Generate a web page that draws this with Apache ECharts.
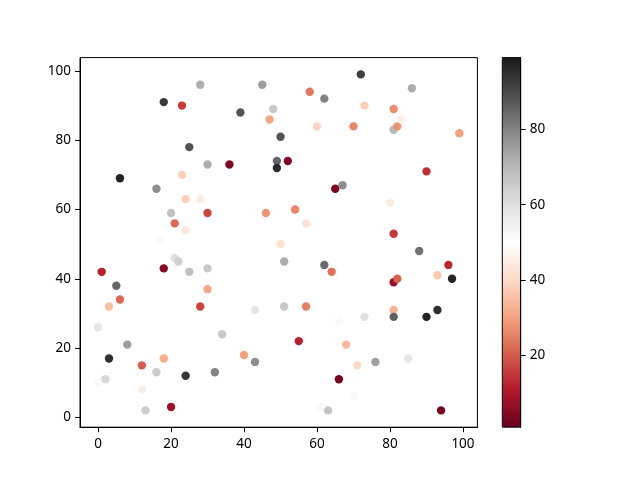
<!DOCTYPE html>
<html>
<head>
<meta charset="utf-8">
<script src="https://cdn.jsdelivr.net/npm/echarts@6/dist/echarts.min.js"></script>
<style>html,body{margin:0;padding:0;background:#fff}#chart{width:640px;height:480px}</style>
</head>
<body>
<div id="chart"></div>
<script>
const xValues = [0,1,0,2,3,3,5,6,6,8,12,12,13,16,16,17,18,18,18,20,20,21,21,22,23,23,24,24,24,25,25,28,28,28,30,30,30,30,32,34,36,39,40,43,43,45,46,47,48,49,49,50,50,51,51,52,54,55,57,57,58,60,62,62,64,63,65,67,66,66,68,70,71,72,70,73,73,76,80,81,81,82,83,81,81,82,81,81,85,86,88,90,90,93,93,94,96,97,99,61];
const yValues = [26,42,10,11,17,32,38,34,69,21,15,8,2,13,66,51,17,43,91,3,59,56,46,45,90,70,63,54,12,42,78,96,63,32,73,59,43,37,13,24,73,88,18,31,16,96,59,86,89,74,72,81,50,45,32,74,60,22,56,32,94,84,92,44,42,2,66,67,28,11,21,84,15,99,6,90,29,16,62,89,83,84,86,53,39,40,31,29,17,95,48,71,29,41,31,2,44,40,82,3];
const colorValues = [58,12,52,62,95,35,85,22,97,75,20,45,65,65,78,52,32,5,93,8,68,22,60,64,16,38,38,44,94,68,88,72,45,17,72,17,66,31,80,66,4,88,30,58,78,75,28,31,66,85,96,88,42,72,66,4,26,12,42,25,24,39,80,84,23,67,4,78,52,3,34,26,40,92,52,38,60,75,45,27,70,28,46,15,7,21,33,86,58,72,83,14,97,37,95,3,13,97,30,52];
const xTicks = [0,20,40,60,80,100];
const yTicks = [0,20,40,60,80,100];
const cbTicks = [20,40,60,80];
const cMin = 1, cMax = 99;
const rdgy = ['#67001f','#b2182b','#d6604d','#f4a582','#fddbc7','#ffffff','#e0e0e0','#bababa','#878787','#4d4d4d','#1a1a1a'];

const points = xValues.map((x, i) => [x, yValues[i], colorValues[i]]);
const font = 'Noto Sans';
const chart = echarts.init(document.getElementById('chart'), null, {renderer: 'canvas'});
chart.setOption({
  backgroundColor: '#fff',
  animation: false,
  grid: [
    {left: 80, top: 57.6, width: 397.4, height: 369.6, show: true, borderColor: '#000', borderWidth: 1, backgroundColor: 'transparent'},
    {left: 502.3, top: 57.6, width: 18.4, height: 369.6, show: false}
  ],
  xAxis: [
    {type: 'value', gridIndex: 0, min: -4.95, max: 103.95,
     axisLine: {show: true, onZero: false, lineStyle: {color: '#000'}},
     axisTick: {show: true, length: 5, lineStyle: {color: '#000'}, customValues: xTicks},
     axisLabel: {color: '#000', fontSize: 13.5, fontFamily: font, margin: 10, customValues: xTicks},
     splitLine: {show: false}},
    {type: 'value', gridIndex: 1, min: 0, max: 1, show: false}
  ],
  yAxis: [
    {type: 'value', gridIndex: 0, min: -2.85, max: 103.85,
     axisLine: {show: true, onZero: false, lineStyle: {color: '#000'}},
     axisTick: {show: true, length: 5, lineStyle: {color: '#000'}, customValues: yTicks},
     axisLabel: {color: '#000', fontSize: 13.5, fontFamily: font, margin: 9, customValues: yTicks},
     splitLine: {show: false}},
    {type: 'value', gridIndex: 1, min: cMin, max: cMax, position: 'right', z: 10,
     axisLine: {show: true, onZero: false, lineStyle: {color: '#000'}},
     axisTick: {show: true, length: 5, lineStyle: {color: '#000'}, customValues: cbTicks},
     axisLabel: {color: '#000', fontSize: 13.5, fontFamily: font, margin: 9, customValues: cbTicks},
     splitLine: {show: false}}
  ],
  visualMap: {
    type: 'continuous', min: cMin, max: cMax, dimension: 2, seriesIndex: 0,
    calculable: false, orient: 'vertical', left: 502.3, top: 57.6,
    itemWidth: 18.4, itemHeight: 369.6, padding: 0, text: null, showLabel: false,
    inRange: {color: rdgy}
  },
  graphic: [
    {type: 'rect', z: 100, silent: true,
     shape: {x: 502.3, y: 57.6, width: 18.4, height: 369.6},
     style: {fill: 'none', stroke: '#000', lineWidth: 1}}
  ],
  series: [
    {type: 'scatter', xAxisIndex: 0, yAxisIndex: 0, symbolSize: 8.4,
     data: points, itemStyle: {opacity: 1}}
  ]
});
</script>
</body>
</html>
